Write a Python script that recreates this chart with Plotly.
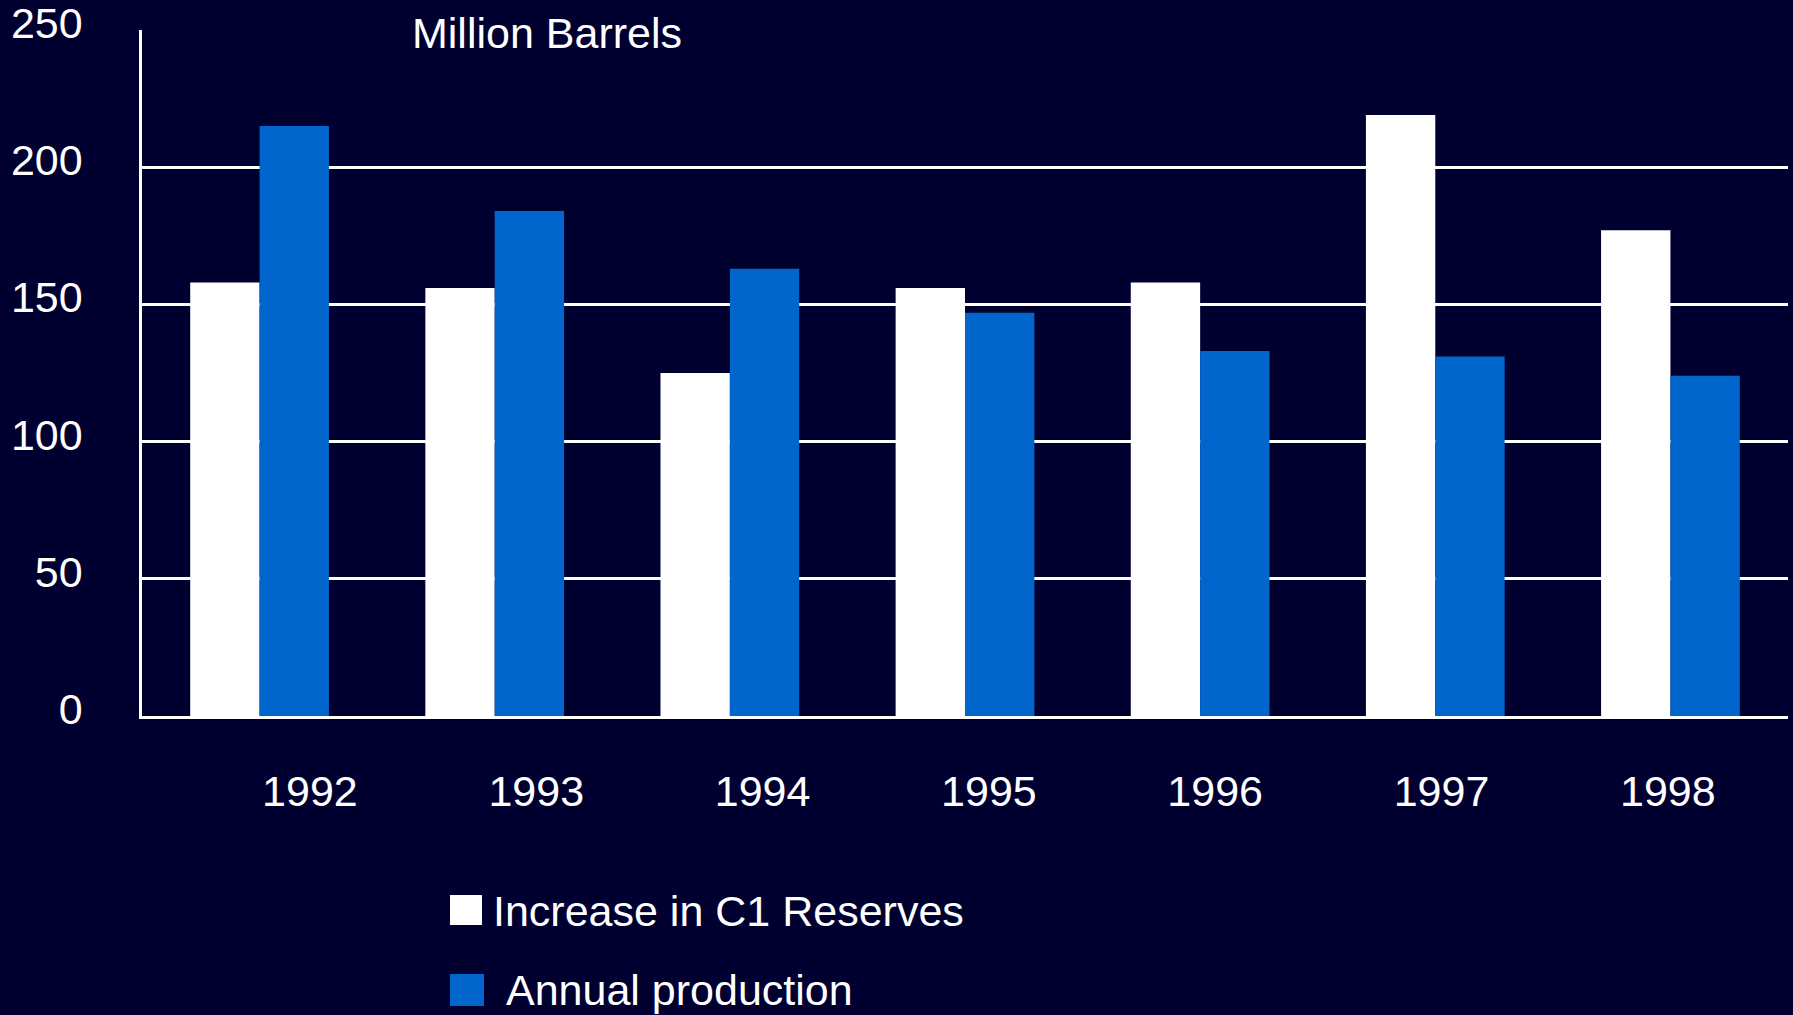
import plotly.graph_objects as go

# Data (million barrels)
years = ["1992", "1993", "1994", "1995", "1996", "1997", "1998"]
reserves_increase = [158, 156, 125, 156, 158, 219, 177]
annual_production = [215, 184, 163, 147, 133, 131, 124]
y_ticks = [0, 50, 100, 150, 200, 250]

BG = "#000030"
WHITE = "#FFFFFF"
BLUE = "#0066CC"
FONT = "Liberation Sans, Arial, sans-serif"
FS = 43

W, H = 1793, 1015
M_L, M_R, M_T, M_B = 142, 5, 30, 299
PLOT_W = W - M_L - M_R
PLOT_H = H - M_T - M_B


def px_x(x):
    """Pixel column -> paper x."""
    return (x - M_L) / PLOT_W


def px_y(y):
    """Pixel row -> paper y."""
    return (H - M_B - y) / PLOT_H


fig = go.Figure()

fig.add_trace(go.Bar(
    x=years, y=reserves_increase, name="Increase in C1 Reserves",
    marker=dict(color=WHITE, line=dict(width=0)), showlegend=False,
))
fig.add_trace(go.Bar(
    x=years, y=annual_production, name="Annual production",
    marker=dict(color=BLUE, line=dict(width=0)), showlegend=False,
))

# invisible trace carrying the year labels on an overlaid axis
fig.add_trace(go.Scatter(
    x=list(range(len(years))), y=[None] * len(years), xaxis="x2",
    mode="markers", showlegend=False, hoverinfo="skip",
))

fig.update_layout(
    width=W, height=H,
    margin=dict(l=M_L, r=M_R, t=M_T, b=M_B, autoexpand=False),
    paper_bgcolor=BG, plot_bgcolor=BG,
    font=dict(family=FONT, size=FS, color=WHITE),
    barmode="group", bargap=0.41, bargroupgap=0,
    showlegend=False,
    xaxis=dict(
        type="category", range=[-0.5, 6.5], automargin=False,
        showticklabels=False, showgrid=False, ticks="",
        showline=True, linecolor=WHITE, linewidth=3,
        zeroline=False,
    ),
    xaxis2=dict(
        overlaying="x", anchor="y", side="bottom", automargin=False,
        range=[-0.742, 6.531],
        tickmode="array", tickvals=list(range(len(years))), ticktext=years,
        showgrid=False, zeroline=False, showline=False, ticks="",
        ticklabelstandoff=46,
        tickfont=dict(family=FONT, size=FS, color=WHITE),
    ),
    yaxis=dict(
        range=[0, 250], tickvals=y_ticks, automargin=False,
        showgrid=True, gridcolor=WHITE, gridwidth=3,
        showline=True, linecolor=WHITE, linewidth=2.5,
        zeroline=False, ticks="",
        ticklabelstandoff=48, ticklabelshift=-7,
        ticklabeloverflow="allow",
        tickfont=dict(family=FONT, size=FS, color=WHITE),
    ),
)

# unit label
fig.add_annotation(
    text="Million Barrels", xref="paper", yref="paper",
    x=px_x(410), y=px_y(33), xanchor="left", yanchor="middle",
    showarrow=False, font=dict(family=FONT, size=FS, color=WHITE),
)

# legend: large square swatches with labels
legend_items = [
    ("Increase in C1 Reserves", WHITE, (450, 895, 482, 925), (491, 911)),
    ("Annual production", BLUE, (450, 974, 484, 1006), (504, 990)),
]
for label, color, (x0, y0, x1, y1), (tx, ty) in legend_items:
    fig.add_shape(
        type="rect", xref="paper", yref="paper",
        x0=px_x(x0), x1=px_x(x1), y0=px_y(y1), y1=px_y(y0),
        fillcolor=color, line=dict(width=0),
    )
    fig.add_annotation(
        text=label, xref="paper", yref="paper",
        x=px_x(tx), y=px_y(ty), xanchor="left", yanchor="middle",
        showarrow=False, font=dict(family=FONT, size=FS, color=WHITE),
    )

fig.write_html("out.html", config={"displayModeBar": False})
